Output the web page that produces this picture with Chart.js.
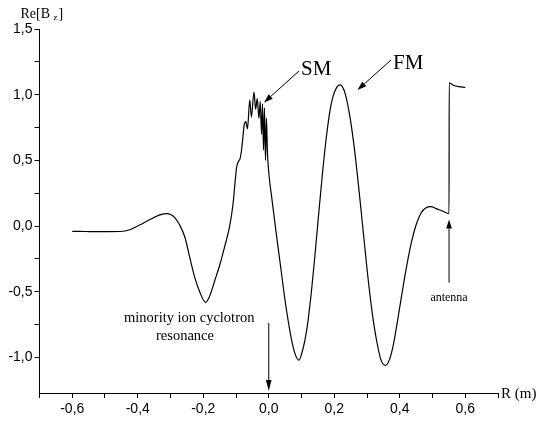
<!DOCTYPE html>
<html>
<head>
<meta charset="utf-8">
<title>Re[Bz] versus R</title>
<script src="https://cdn.jsdelivr.net/npm/chart.js@4.4.1/dist/chart.umd.min.js"></script>
<style>
    html, body { margin: 0; padding: 0; background: #ffffff; }
    #wrap { width: 540px; height: 421px; }
</style>
</head>
<body>
<div id="wrap"><canvas id="bz-chart" width="540" height="421"></canvas></div>
<script>
// Major radius R (m)
const rValues = [
    -0.600, -0.560, -0.520, -0.490, -0.454, -0.424, -0.393, -0.363, -0.332, -0.312,
    -0.298, -0.287, -0.271, -0.256, -0.241, -0.226, -0.210, -0.193, -0.180, -0.165,
    -0.149, -0.134, -0.119, -0.109, -0.103, -0.098, -0.093, -0.088, -0.084, -0.080,
    -0.075, -0.070, -0.065, -0.058, -0.053, -0.045, -0.040, -0.035, -0.030, -0.026,
    -0.022, -0.019, -0.016, -0.013, -0.010, -0.007, -0.004, 0.001, 0.010, 0.020,
    0.030, 0.040, 0.050, 0.060, 0.070, 0.080, 0.092, 0.104, 0.116, 0.128,
    0.140, 0.152, 0.164, 0.176, 0.190, 0.204, 0.218, 0.232, 0.246, 0.260,
    0.274, 0.288, 0.302, 0.316, 0.330, 0.343, 0.356, 0.368, 0.380, 0.392,
    0.405, 0.420, 0.435, 0.450, 0.465, 0.480, 0.495, 0.510, 0.530, 0.5505,
    0.5510, 0.565, 0.580, 0.600
];

// Re[Bz] at each R
const bzValues = [
    -0.040, -0.041, -0.042, -0.042, -0.041, -0.028, 0.010, 0.050, 0.085, 0.095,
    0.086, 0.064, 0.004, -0.085, -0.240, -0.390, -0.505, -0.580, -0.530, -0.416,
    -0.290, -0.150, 0.004, 0.170, 0.330, 0.450, 0.490, 0.510, 0.560, 0.650,
    0.770, 0.795, 0.740, 0.960, 0.830, 1.020, 0.890, 0.970, 0.820, 0.950,
    0.700, 0.930, 0.580, 0.900, 0.500, 0.820, 0.560, 0.385, 0.200, 0.000,
    -0.190, -0.380, -0.570, -0.730, -0.870, -0.970, -1.020, -0.940, -0.790, -0.550,
    -0.250, 0.080, 0.400, 0.680, 0.920, 1.040, 1.075, 1.020, 0.860, 0.620,
    0.310, -0.030, -0.370, -0.660, -0.880, -1.020, -1.060, -1.020, -0.910, -0.740,
    -0.540, -0.320, -0.130, 0.010, 0.100, 0.140, 0.148, 0.135, 0.115, 0.095,
    1.090, 1.070, 1.062, 1.055
];

// Axis ticks (all tick marks, and the ones that carry a label)
const xTickValues = [-0.7, -0.6, -0.5, -0.4, -0.3, -0.2, -0.1, 0.0, 0.1, 0.2, 0.3, 0.4, 0.5, 0.6, 0.7];
const xLabelValues = [-0.6, -0.4, -0.2, 0.0, 0.2, 0.4, 0.6];
const yTickValues = [-1.0, -0.75, -0.5, -0.25, 0.0, 0.25, 0.5, 0.75, 1.0, 1.25, 1.5];
const yLabelValues = [-1.0, -0.5, 0.0, 0.5, 1.0, 1.5];

const serif = "'Liberation Serif', 'Times New Roman', serif";
const sans = "'Liberation Sans', Arial, sans-serif";

/**
 * Format a number the European way: 0,5 instead of 0.5
 */
function commaLabel(value, labelled) {
    const hit = labelled.some(v => Math.abs(v - value) < 1e-6);
    if (!hit) return '';
    const s = (Math.abs(value) < 1e-9 ? 0 : value).toFixed(1);
    return s.replace('.', ',');
}

/**
 * Draw a line with a filled arrow head at (x2, y2)
 */
function drawArrow(ctx, x1, y1, x2, y2, headLen, headHalf) {
    const ang = Math.atan2(y2 - y1, x2 - x1);
    const bx = x2 - headLen * Math.cos(ang);
    const by = y2 - headLen * Math.sin(ang);
    ctx.beginPath();
    ctx.moveTo(x1, y1);
    ctx.lineTo(bx, by);
    ctx.stroke();
    ctx.beginPath();
    ctx.moveTo(x2, y2);
    ctx.lineTo(bx + headHalf * Math.sin(ang), by - headHalf * Math.cos(ang));
    ctx.lineTo(bx - headHalf * Math.sin(ang), by + headHalf * Math.cos(ang));
    ctx.closePath();
    ctx.fill();
}

// Texts and arrows laid over the plot
const annotationPlugin = {
    id: 'annotations',
    afterDraw(chart) {
        const ctx = chart.ctx;
        const xs = chart.scales.x;
        const ys = chart.scales.y;
        ctx.save();
        ctx.fillStyle = '#000';
        ctx.strokeStyle = '#000';
        ctx.lineWidth = 1;
        ctx.textBaseline = 'alphabetic';
        ctx.textAlign = 'left';

        // y axis title Re[Bz]
        ctx.font = '14px ' + serif;
        ctx.fillText('Re[B', 20.5, 18);
        ctx.fillText(']', 58.5, 18);
        ctx.font = '9px ' + serif;
        ctx.fillText('z', 53.5, 20);

        // x axis title
        ctx.font = '15px ' + serif;
        ctx.fillText('R (m)', 501, 397.5);

        // SM and FM labels with arrows
        ctx.font = '21px ' + serif;
        ctx.fillText('SM', 301, 75);
        ctx.fillText('FM', 393, 69);
        drawArrow(ctx, 299, 71, 264, 102.5, 9, 3);
        drawArrow(ctx, 391, 60, 357.5, 90, 9, 3);

        // antenna
        const ax = xs.getPixelForValue(0.5505);
        drawArrow(ctx, ax, ys.getPixelForValue(-0.43), ax, ys.getPixelForValue(0.05), 9, 2.8);
        ctx.font = '12px ' + serif;
        ctx.textAlign = 'center';
        ctx.fillText('antenna', ax, 301);

        // minority ion cyclotron resonance
        const rx = xs.getPixelForValue(0.0);
        drawArrow(ctx, rx, 323, rx, chart.chartArea.bottom - 2, 11, 2.8);
        ctx.font = '14.5px ' + serif;
        ctx.textAlign = 'left';
        ctx.fillText('minority ion cyclotron', 124, 322);
        ctx.fillText('resonance', 156, 340);
        ctx.restore();
    }
};

function initChart() {
    const ctx = document.getElementById('bz-chart');
    const points = rValues.map((r, i) => ({ x: r, y: bzValues[i] }));

    new Chart(ctx, {
        type: 'scatter',
        data: {
            datasets: [{
                data: points,
                showLine: true,
                borderColor: '#000000',
                borderWidth: 1.2,
                pointRadius: 0,
                cubicInterpolationMode: 'monotone',
                fill: false
            }]
        },
        options: {
            responsive: false,
            animation: false,
            devicePixelRatio: 1,
            layout: {
                padding: { left: 0, top: 29, right: 42, bottom: 0 }
            },
            plugins: {
                legend: { display: false },
                tooltip: { enabled: false }
            },
            scales: {
                x: {
                    type: 'linear',
                    min: -0.7,
                    max: 0.7,
                    afterBuildTicks: scale => {
                        scale.ticks = xTickValues.map(v => ({ value: v }));
                    },
                    afterFit: scale => { scale.height = 28; },
                    grid: {
                        drawOnChartArea: false,
                        color: '#000',
                        tickLength: 5,
                        lineWidth: 1
                    },
                    border: { display: true, color: '#000', width: 1 },
                    ticks: {
                        autoSkip: false,
                        maxRotation: 0,
                        padding: 3,
                        color: '#000',
                        font: { family: sans, size: 14 },
                        callback: value => commaLabel(value, xLabelValues)
                    }
                },
                y: {
                    type: 'linear',
                    min: -1.27,
                    max: 1.5,
                    afterBuildTicks: scale => {
                        scale.ticks = yTickValues.map(v => ({ value: v }));
                    },
                    afterFit: scale => { scale.width = 39.5; },
                    grid: {
                        drawOnChartArea: false,
                        color: '#000',
                        tickLength: 5,
                        lineWidth: 1
                    },
                    border: { display: true, color: '#000', width: 1 },
                    ticks: {
                        autoSkip: false,
                        padding: 2,
                        color: '#000',
                        font: { family: sans, size: 14 },
                        callback: value => commaLabel(value, yLabelValues)
                    }
                }
            }
        },
        plugins: [annotationPlugin]
    });
}

initChart();
</script>
</body>
</html>
